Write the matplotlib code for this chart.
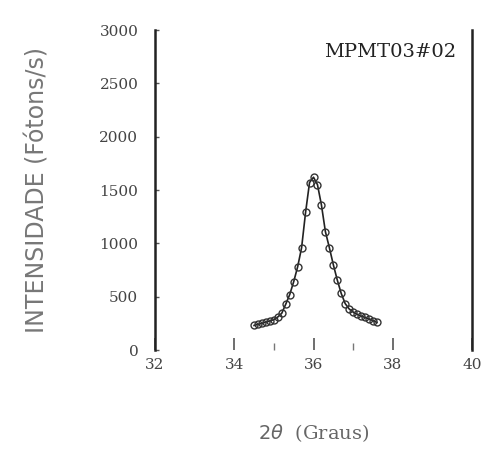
import matplotlib
matplotlib.use("Agg")
import matplotlib.pyplot as plt
from matplotlib.ticker import FixedLocator

# Diffraction peak: 2-theta (degrees) and intensity (photons/s)
two_theta = [34.5, 34.6, 34.7, 34.8, 34.9, 35.0, 35.1, 35.2, 35.3, 35.4,
             35.5, 35.6, 35.7, 35.8, 35.9, 36.0, 36.1, 36.2, 36.3, 36.4,
             36.5, 36.6, 36.7, 36.8, 36.9, 37.0, 37.1, 37.2, 37.3, 37.4,
             37.5, 37.6]
intensity = [230, 240, 250, 262, 272, 285, 310, 345, 430, 520,
             640, 780, 960, 1290, 1570, 1620, 1550, 1360, 1110, 960,
             800, 656, 530, 435, 385, 356, 335, 318, 305, 292,
             275, 258]

x_ticks = [32, 34, 36, 38, 40]
x_minor_ticks = [35, 37]
y_ticks = [0, 500, 1000, 1500, 2000, 2500, 3000]
sample_label = "MPMT03#02"

fig = plt.figure(figsize=(4.83, 4.50), dpi=100)
ax = fig.add_axes([155 / 483, 1 - 350 / 450, (472 - 155) / 483, (350 - 30) / 450])

ax.plot(two_theta, intensity, color="#222222", linewidth=1.2, zorder=2)
ax.plot(two_theta, intensity, linestyle="none", marker="o", markersize=5,
        markerfacecolor="none", markeredgecolor="#333333", markeredgewidth=1.0,
        zorder=3)

ax.set_xlim(32, 40)
ax.set_ylim(0, 3000)
ax.set_xticks(x_ticks)
ax.set_yticks(y_ticks)
ax.xaxis.set_minor_locator(FixedLocator(x_minor_ticks))

serif = ["DejaVu Serif"]
ax.set_xticklabels([str(v) for v in x_ticks], family=serif, fontsize=11, color="#444444")
ax.set_yticklabels([str(v) for v in y_ticks], family=serif, fontsize=11, color="#444444")

ax.tick_params(axis="x", which="major", direction="in", length=9, width=1.2,
               color="#555555", pad=6)
ax.tick_params(axis="x", which="minor", direction="in", length=5, width=1.0,
               color="#777777")
ax.tick_params(axis="y", which="major", direction="in", length=3, width=1.0,
               color="#555555", pad=12)

for side in ("top", "bottom"):
    ax.spines[side].set_visible(False)
for side in ("left", "right"):
    ax.spines[side].set_linewidth(1.8)
    ax.spines[side].set_color("#222222")

ax.set_ylabel("INTENSIDADE (Fótons/s)", family=["DejaVu Sans"], fontsize=17,
              color="#777777", labelpad=36)
ax.set_xlabel(r"$2\theta$  (Graus)", family=serif, fontsize=14, color="#666666",
              labelpad=36)

ax.text(0.95, 0.93, sample_label, transform=ax.transAxes, ha="right", va="center",
        family=serif, fontsize=14, color="#222222")

fig.savefig("out.png", dpi=100, facecolor="white")
